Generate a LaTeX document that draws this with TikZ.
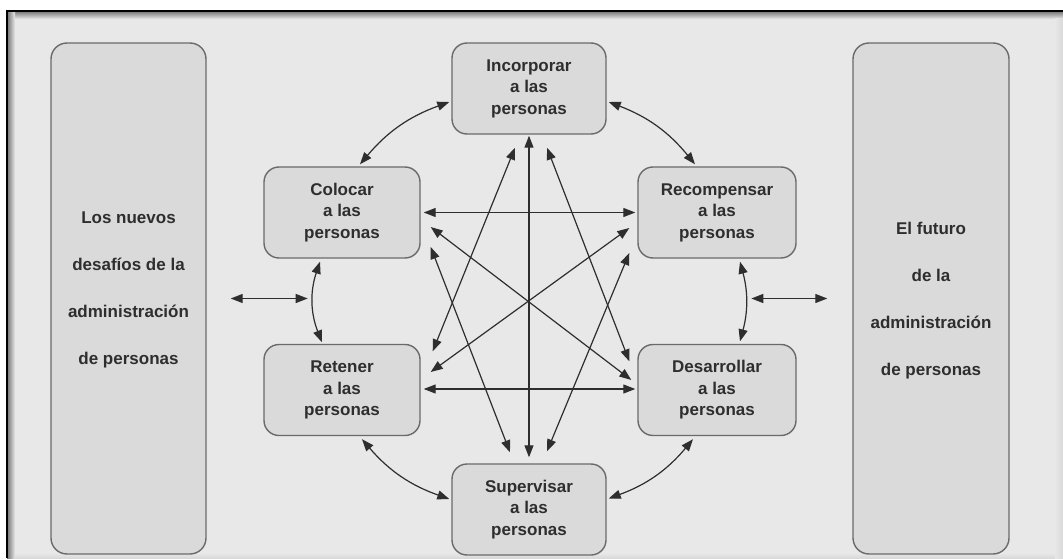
\documentclass[tikz,border=0pt]{standalone}
\usepackage{fontspec}
\setmainfont{Liberation Sans}
\usetikzlibrary{arrows.meta,calc}
\definecolor{bgc}{HTML}{E8E8E8}
\definecolor{boxc}{HTML}{DADADA}
\definecolor{edgec}{HTML}{6A6A6A}
\definecolor{inkc}{HTML}{2E2E2E}
\begin{document}
\begin{tikzpicture}[x=1pt,y=1pt,
  pbox/.style={draw=edgec, line width=1.4pt, fill=boxc, rounded corners=15pt,
    minimum width=156pt, minimum height=91pt, align=center, inner sep=0pt,
    text=inkc, font=\bfseries\fontsize{17}{21.5}\selectfont},
  sidebox/.style={draw=edgec, line width=1.4pt, fill=boxc, rounded corners=16pt,
    minimum width=155pt, minimum height=511pt, inner sep=0pt},
  sidetext/.style={align=center, text=inkc, inner sep=0pt,
    font=\bfseries\fontsize{17}{47}\selectfont},
  link/.style={draw=inkc, line width=1.2pt,
    {Triangle[length=12pt,width=9pt]}-{Triangle[length=12pt,width=9pt]}},
]
\fill[white] (0,0) rectangle (1063,558);
\useasboundingbox (0,0) rectangle (1063,558);
% frame
\fill[bgc] (7,0) rectangle (1063,547);
\shade[top color=black!55, bottom color=bgc] (7,539) rectangle (1063,547);
\shade[left color=black!55, right color=bgc] (7,0) rectangle (15,547);
\shade[left color=bgc, right color=black!15] (1055,0) rectangle (1063,539);
\shade[top color=bgc, bottom color=black!15] (15,0) rectangle (1055,5);
\draw[black, line width=2pt] (7,0) -- (7,547) -- (1063,547);

% side boxes
\node[sidebox, label={[sidetext, yshift=8.5pt]center:Los nuevos\\desafíos de la\\administración\\de personas}] (L) at (128.5,259.5) {};
\node[sidebox, minimum width=156pt, label={[sidetext, yshift=-2pt]center:El futuro\\de la\\administración\\de personas}] (R) at (931,259.5) {};

% process boxes
\node[pbox, minimum width=154pt] (Inc) at (529,469.5) {Incorporar\\a las\\personas};
\node[pbox] (Col) at (342,345.5) {Colocar\\a las\\personas};
\node[pbox, minimum width=158pt] (Rec) at (717,345.5) {Recompensar\\a las\\personas};
\node[pbox] (Ret) at (342,168) {Retener\\a las\\personas};
\node[pbox, minimum width=158pt] (Des) at (717,168) {Desarrollar\\a las\\personas};
\node[pbox, minimum width=154pt] (Sup) at (529,48.5) {Supervisar\\a las\\personas};

% straight links
\draw[link] ($(Inc.south)+(0,-1)$) -- ($(Sup.north)+(0,6)$);
\draw[link] ($(Col.east)+(3,0)$) -- ($(Rec.west)+(-2,0)$);
\draw[link] ($(Ret.east)+(3,1)$) -- ($(Des.west)+(-2,1)$);
\draw[link] ($(Inc.south)+(-14,-13)$) -- ($(Ret.north east)+(12,-7.5)$);
\draw[link] ($(Inc.south)+(18,-13)$) -- ($(Des.north west)+(-8,-17.5)$);
\draw[link] ($(Col.east)+(10,-14.5)$) -- ($(Des.west)+(-6,10)$);
\draw[link] ($(Ret.east)+(10,18)$) -- ($(Rec.west)+(-8,-15.5)$);
\draw[link] ($(Col.east)+(10,-34.5)$) -- ($(Sup.north)+(-19,11)$);
\draw[link] ($(Rec.west)+(-8,-40.5)$) -- ($(Sup.north)+(18,12)$);

% curved links
\draw[link] ($(Inc.west)+(-2,-13.5)$) to[bend right=15] ($(Col.north)+(18,2)$);
\draw[link] ($(Inc.east)+(2,-13.5)$) to[bend left=15] ($(Rec.north)+(-22,2)$);
\draw[link] ($(Col.south)+(-22,-3)$) to[bend right=20] ($(Ret.north)+(-20,1.5)$);
\draw[link] ($(Rec.south)+(23,-3)$) to[bend left=15] ($(Des.north)+(23,2.5)$);
\draw[link] ($(Ret.south)+(20,-3)$) to[bend right=15] ($(Sup.west)+(-2,10.5)$);
\draw[link] ($(Des.south)+(-24,-3)$) to[bend left=15] ($(Sup.east)+(2,11)$);

% side links
\coordinate (la) at ($(L.east)+(24,0)$);
\coordinate (lb) at ($(L.east)+(101,0)$);
\coordinate (ra) at ($(R.west)+(-101,0)$);
\coordinate (rb) at ($(R.west)+(-25,0)$);
\draw[link] (la) -- (lb);
\draw[link] (ra) -- (rb);
\end{tikzpicture}
\end{document}
